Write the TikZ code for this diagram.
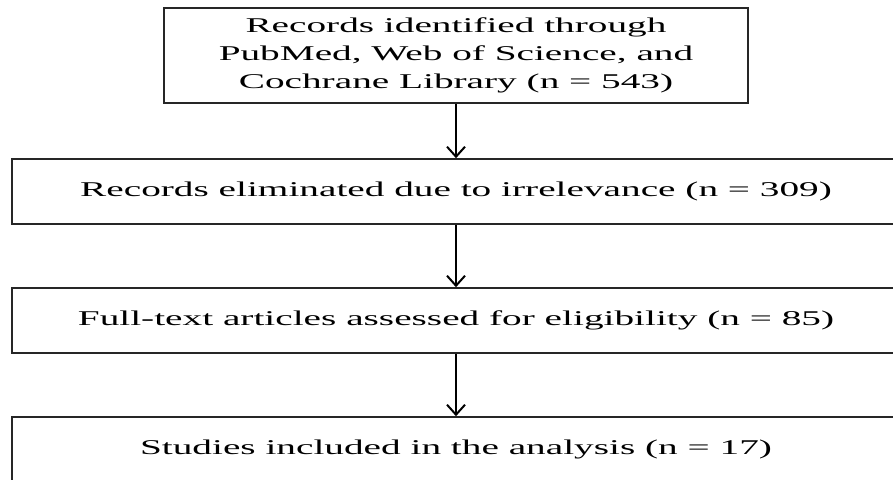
\documentclass[tikz,border=0pt]{standalone}
\usepackage{fontspec}
\usepackage{graphicx}
\setmainfont{Liberation Serif}
\usetikzlibrary{positioning,arrows.meta}

% texto ensanchado horizontalmente
\newcommand{\estirar}[1]{\scalebox{1.87}[1]{#1}}

\begin{document}
\begin{tikzpicture}[x=1pt, y=1pt, node distance=129pt,
    box/.style={draw=black!85, line width=1.6pt, minimum width=888pt, minimum height=65pt,
                inner sep=0pt, align=center, font=\fontsize{21}{28}\selectfont},
    flow/.style={-{Straight Barb[width=18pt,length=10pt,line width=2pt]}, line width=2pt, draw=black}]

        % Marco de la imagen
        \useasboundingbox (0,0) rectangle (893,-479);
        \clip (0,0) rectangle (893,-479);

        % Cajas del diagrama de flujo
        \node[box, minimum width=584pt, minimum height=95pt] (ident) at (456,-55.5)
            {\estirar{Records identified through}\\\estirar{PubMed, Web of Science, and}\\\estirar{Cochrane Library (n = 543)}};
        \node[box, below of=ident, node distance=136pt] (elim) {\estirar{Records eliminated due to irrelevance (n = 309)}};
        \node[box, below of=elim] (full) {\estirar{Full-text articles assessed for eligibility (n = 85)}};
        \node[box, below of=full] (incl) {\estirar{Studies included in the analysis (n = 17)}};

        % Flechas entre cajas
        \draw [flow] (ident) -- (elim);
        \draw [flow] (elim) -- (full);
        \draw [flow] (full) -- (incl);

    \end{tikzpicture}
\end{document}
